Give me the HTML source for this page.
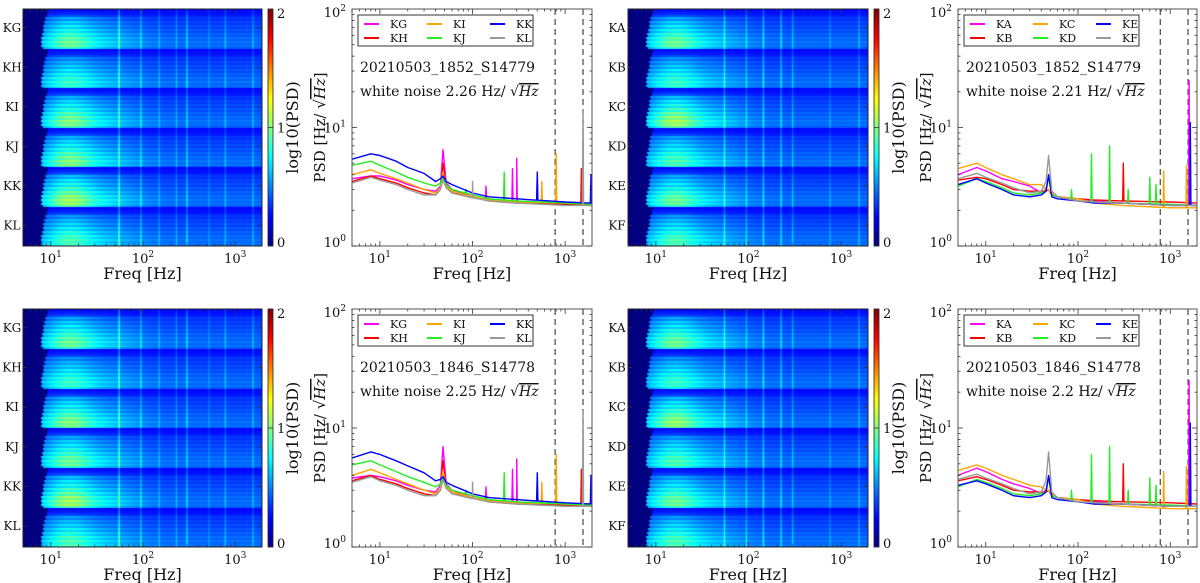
<!DOCTYPE html>
<html><head><meta charset="utf-8">
<style>
html,body{margin:0;padding:0;background:#fff;}
#wrap{position:relative;width:1200px;height:583px;overflow:hidden;}
canvas{position:absolute;}
svg{position:absolute;left:0;top:0;}
text{font-family:"DejaVu Serif","Liberation Serif",serif;fill:#111;}
</style></head>
<body>
<div id="wrap">
<canvas id="hm0"></canvas>
<canvas id="hm1"></canvas>
<canvas id="hm2"></canvas>
<canvas id="hm3"></canvas>
<canvas id="cb0"></canvas>
<canvas id="cb1"></canvas>
<canvas id="cb2"></canvas>
<canvas id="cb3"></canvas>
<svg id="svg" width="1200" height="583" xmlns="http://www.w3.org/2000/svg"></svg>
</div>
<script>
// ---------- data ----------
const fGrid = [5,8,10,15,20,30,40,45,48,52,60,100,150,300,1000,1950];
const namesLeft = ['KG','KH','KI','KJ','KK','KL'];
const namesRight = ['KA','KB','KC','KD','KE','KF'];
const seriesColors = ['#ff00ff','#ff0000','#ffa500','#22ee22','#0000ff','#999999'];
const rightColors = ['#ff00ff','#ff0000','#ffa500','#22ee22','#0000ff','#999999'];

const tlVals = [
 [3.7,3.9,3.9,3.6,3.3,3.0,2.9,3.2,6.5,3.4,3.0,2.6,2.45,2.35,2.25,2.2],
 [3.5,3.9,3.7,3.4,3.1,2.8,2.7,3.0,5.0,3.2,2.8,2.6,2.4,2.3,2.25,2.2],
 [4.0,4.4,4.1,3.7,3.4,3.0,2.8,3.1,4.2,3.2,2.9,2.6,2.45,2.35,2.3,2.25],
 [4.8,5.2,4.8,4.2,3.8,3.4,3.2,3.4,3.8,3.3,3.0,2.7,2.5,2.4,2.3,2.25],
 [5.4,6.0,5.8,5.2,4.6,4.1,3.5,3.7,3.9,3.5,3.3,2.8,2.6,2.5,2.35,2.3],
 [3.4,3.8,3.6,3.3,3.0,2.7,2.7,3.0,3.6,3.1,2.8,2.55,2.4,2.3,2.2,2.2]];
const blVals = [
 [3.8,4.0,3.9,3.6,3.3,3.0,2.9,3.3,7.0,3.4,3.0,2.6,2.45,2.35,2.25,2.2],
 [3.6,4.0,3.7,3.4,3.1,2.8,2.7,3.0,5.3,3.2,2.8,2.6,2.4,2.3,2.25,2.2],
 [4.0,4.5,4.2,3.7,3.4,3.0,2.8,3.1,4.4,3.2,2.9,2.6,2.45,2.35,2.3,2.25],
 [4.9,5.3,4.9,4.3,3.9,3.5,3.2,3.4,3.9,3.3,3.0,2.7,2.5,2.4,2.3,2.25],
 [5.6,6.3,6.0,5.3,4.8,4.2,3.6,3.7,3.9,3.5,3.3,2.8,2.6,2.5,2.35,2.3],
 [3.5,3.9,3.6,3.3,3.0,2.7,2.7,3.0,3.7,3.1,2.8,2.55,2.4,2.3,2.2,2.2]];
const trVals = [
 [4.0,4.6,4.3,3.7,3.5,3.2,2.8,3.0,3.9,2.8,2.6,2.5,2.4,2.3,2.2,2.2],
 [3.6,3.8,3.7,3.3,3.0,2.9,2.9,2.9,3.0,2.7,2.6,2.5,2.45,2.4,2.35,2.3],
 [4.5,5.0,4.6,4.0,3.7,3.3,3.3,3.0,3.0,2.8,2.6,2.5,2.3,2.2,2.1,2.1],
 [3.2,3.7,3.5,3.1,2.8,2.7,2.8,2.9,3.8,2.7,2.6,2.4,2.35,2.3,2.25,2.2],
 [3.3,3.7,3.4,3.0,2.7,2.6,2.7,2.9,4.0,2.6,2.5,2.4,2.3,2.3,2.2,2.2],
 [3.7,4.1,3.8,3.4,3.1,2.8,2.9,3.5,5.8,2.9,2.6,2.4,2.35,2.3,2.2,2.2]];
const brVals = [
 [4.0,4.6,4.3,3.7,3.4,3.1,2.8,3.0,3.9,2.8,2.6,2.5,2.4,2.3,2.2,2.2],
 [3.6,3.9,3.7,3.3,3.0,2.9,2.9,2.9,3.0,2.7,2.6,2.5,2.45,2.4,2.35,2.3],
 [4.4,4.9,4.6,4.0,3.7,3.3,3.2,3.0,3.0,2.8,2.6,2.5,2.3,2.2,2.1,2.1],
 [3.2,3.7,3.5,3.1,2.8,2.7,2.8,2.9,3.8,2.7,2.6,2.4,2.35,2.3,2.25,2.2],
 [3.3,3.6,3.4,3.0,2.7,2.6,2.7,2.9,4.0,2.6,2.5,2.4,2.3,2.3,2.2,2.2],
 [3.7,4.1,3.8,3.4,3.1,2.8,2.9,3.6,6.3,2.9,2.6,2.4,2.35,2.3,2.2,2.2]];

const spikeLeftF = [85,100,140,220,270,300,500,560,800,1500,1560,1900];
const spikeLeftV = [3.0,3.5,3.2,4.2,4.5,5.5,4.2,3.5,6.0,4.5,14,4.0];
const spikeLeftS = [3,5,0,3,0,0,4,2,2,1,5,4];
const spikeRightF = [85,140,220,310,350,600,700,850,1500,1600,1650];
const spikeRightV = [3.0,6.0,7.0,5.0,3.0,3.8,3.3,4.3,4.8,25,11];
const spikeRightS = [3,3,3,1,3,3,3,2,2,0,4];

const dashedF = [780,1560];

const hmHumpLeftTop = [0.48,0.38,0.52,0.52,0.58,0.42];
const hmHumpRightTop = [0.48,0.38,0.58,0.42,0.48,0.42];
const hmHumpLeftBot = [0.48,0.38,0.52,0.48,0.58,0.42];
const hmHumpRightBot = [0.48,0.38,0.55,0.42,0.48,0.42];
const hmLineLeftF = [55,95,150,230,300,520,780,1560];
const hmLineLeftA = [0.4,0.25,0.18,0.18,0.3,0.12,0.2,0.2];
const hmLineRightF = [55,95,145,225,300,760,1560];
const hmLineRightA = [0.3,0.22,0.3,0.3,0.22,0.15,0.2];
const rowProfile = [0.0,0.05,0.1,0.2,0.45,0.35,0.55,0.45,0.65,0.5,0.75,0.6,0.85,0.7,0.95,0.8,1,0.85,0.95,0.75];

const titlesTop = ['20210503_1852_S14779','20210503_1852_S14779'];
const titlesBot = ['20210503_1846_S14778','20210503_1846_S14778'];
const noiseTop = ['2.26','2.21'];
const noiseBot = ['2.25','2.2'];

// ---------- helpers ----------
const FMIN=5, FMAX=1950;
const LMIN=Math.log10(FMIN), LMAX=Math.log10(FMAX);
const svg=document.getElementById('svg');
const NS='http://www.w3.org/2000/svg';
function mk(tag,attrs,parent){const e=document.createElementNS(NS,tag);for(const k in attrs)e.setAttribute(k,attrs[k]);(parent||svg).appendChild(e);return e;}
function xs(p,f){return p.x0+(Math.log10(f)-LMIN)/(LMAX-LMIN)*(p.x1-p.x0);}
function ys(p,v){return p.y1-Math.log10(v)/2*(p.y1-p.y0);}
function jet(t){t=Math.max(0,Math.min(1,t));const c=x=>Math.round(255*Math.max(0,Math.min(1,x)));return [c(1.5-Math.abs(4*t-3)),c(1.5-Math.abs(4*t-2)),c(1.5-Math.abs(4*t-1))];}

function xTicks(p){
  for(let d=0;d<=3;d++){for(let m=1;m<10;m++){const f=m*Math.pow(10,d);if(f<FMIN||f>FMAX)continue;const x=xs(p,f);const L=m===1?5:2.5;
    const t1=mk('line',{x1:x,x2:x,y1:p.y1,y2:p.y1-L,stroke:'#333','stroke-width':0.8});
    
    mk('line',{x1:x,x2:x,y1:p.y0,y2:p.y0+L,stroke:'#333','stroke-width':0.8});
    if(m===1&&d>=1){const t=mk('text',{x:x,y:p.y1+17,'font-size':13,'text-anchor':'middle'});t.textContent='10';const s=mk('tspan',{dy:-6,'font-size':9},t);s.textContent=String(d);}
  }}
  const xl=mk('text',{x:(p.x0+p.x1)/2,y:p.y1+33,'font-size':16,'text-anchor':'middle'});
  xl.textContent='Freq [Hz]';
}

// ---------- heatmap ----------
function heatmap(id,cbid,p,names,hump,lf,la){
  const cv=document.getElementById(id);const W=p.x1-p.x0,H=p.y1-p.y0;
  cv.width=W;cv.height=H;cv.style.left=p.x0+'px';cv.style.top=p.y0+'px';
  const ctx=cv.getContext('2d');const img=ctx.createImageData(W,H);
  const nG=names.length,nR=rowProfile.length,rows=nG*nR,rh=H/rows;
  for(let py=0;py<H;py++){
    const r=Math.min(rows-1,Math.floor(py/rh));const g=Math.floor(r/nR),k=r%nR;const rp=rowProfile[k];
    const cut=Math.log10(7.8+1.5*(1-rp));
    for(let px=0;px<W;px++){
      const lfq=LMIN+(px+0.5)/W*(LMAX-LMIN);let v;
      if(lfq<cut){v=0;}else{
        const hm=Math.exp(-Math.pow((lfq-1.18)/0.28,2))+0.4*Math.exp(-Math.pow((lfq-1.6)/0.4,2));
        v=0.26+0.22*rp+hump[g]*rp*hm;
        for(let i=0;i<lf.length;i++){const dl=(lfq-Math.log10(lf[i]))/0.009;v+=la[i]*(0.6+0.4*rp)*Math.exp(-dl*dl);}
      }
      const c=jet(v/2);const o=(py*W+px)*4;img.data[o]=c[0];img.data[o+1]=c[1];img.data[o+2]=c[2];img.data[o+3]=255;
    }
  }
  ctx.putImageData(img,0,0);
  mk('rect',{x:p.x0,y:p.y0,width:W,height:H,fill:'none',stroke:'#222','stroke-width':1});
  names.forEach((n,i)=>{const y=p.y0+(i+0.5)*nR*rh-1;
    const t=mk('text',{x:p.x0-11,y:y+4,'font-size':12,'text-anchor':'middle'});
    t.textContent=n;
    mk('line',{x1:p.x0,x2:p.x0+4,y1:y,y2:y,stroke:'#333','stroke-width':0.8});
    mk('line',{x1:p.x1,x2:p.x1-4,y1:y,y2:y,stroke:'#333','stroke-width':0.8});
  });
  xTicks(p);
  const cb=document.getElementById(cbid);const cx=p.x1+6;cb.width=5;cb.height=H;cb.style.left=cx+'px';cb.style.top=p.y0+'px';
  const c2=cb.getContext('2d');for(let y=0;y<H;y++){const c=jet(1-y/H);c2.fillStyle=`rgb(${c[0]},${c[1]},${c[2]})`;c2.fillRect(0,y,5,1);}
  mk('rect',{x:cx,y:p.y0,width:5,height:H,fill:'none',stroke:'#222','stroke-width':0.8});
  [0,1,2].forEach(v=>{const y=p.y1-v/2*H;
    const t=mk('text',{x:cx+9,y:y+(v===2?9:v===0?1:5),'font-size':13});t.textContent=String(v);
    mk('line',{x1:cx,x2:cx+5,y1:y,y2:y,stroke:'#333','stroke-width':0.8});});
  const lbl=mk('text',{x:0,y:0,'font-size':16,'text-anchor':'middle',transform:`translate(${cx+30},${(p.y0+p.y1)/2}) rotate(-90)`});
  lbl.textContent='log10(PSD)';
}

// ---------- PSD line chart ----------
function interp(vals,f){const l=Math.log10(f);for(let i=0;i<fGrid.length-1;i++){const a=Math.log10(fGrid[i]),b=Math.log10(fGrid[i+1]);if(l>=a&&l<=b){const t=(l-a)/(b-a);return vals[i]+(vals[i+1]-vals[i])*t;}}return vals[vals.length-1];}
let clipN=0;
function psd(p,names,colors,vals,sf,sv,ss,title,noise){
  const id='clip'+(clipN++);const cp=mk('clipPath',{id:id});mk('rect',{x:p.x0,y:p.y0,width:p.x1-p.x0,height:p.y1-p.y0},cp);
  mk('rect',{x:p.x0,y:p.y0,width:p.x1-p.x0,height:p.y1-p.y0,fill:'#fff'});
  dashedF.forEach(f=>{const x=xs(p,f);const l=mk('line',{x1:x,x2:x,y1:p.y0,y2:p.y1,stroke:'#555','stroke-width':1.3,'stroke-dasharray':'6,4'});});
  const g=mk('g',{'clip-path':`url(#${id})`});
  names.forEach((n,s)=>{
    let pts=fGrid.map(f=>[f,interp(vals[s],f)]);
    sf.forEach((f,i)=>{if(ss[i]!==s)return;const b=interp(vals[s],f);pts.push([f*0.985,b],[f,sv[i]],[f*1.015,b]);});
    pts.sort((a,b)=>a[0]-b[0]);
    const d=pts.map((q,i)=>(i?'L':'M')+xs(p,q[0]).toFixed(1)+','+ys(p,q[1]).toFixed(1)).join('');
    const path=mk('path',{d:d,fill:'none',stroke:colors[s],'stroke-width':1.4,'stroke-linejoin':'round'},g);
    
  });
  mk('rect',{x:p.x0,y:p.y0,width:p.x1-p.x0,height:p.y1-p.y0,fill:'none',stroke:'#555','stroke-width':1});
  for(let d=0;d<2;d++)for(let m=1;m<10;m++){const v=m*Math.pow(10,d);const y=ys(p,v);const L=m===1?5:2.5;
    mk('line',{x1:p.x0,x2:p.x0+L,y1:y,y2:y,stroke:'#333','stroke-width':0.8});mk('line',{x1:p.x1,x2:p.x1-L,y1:y,y2:y,stroke:'#333','stroke-width':0.8});}
  [0,1,2].forEach(d=>{const y=ys(p,Math.pow(10,d));const t=mk('text',{x:p.x0-6,y:y+(d===2?8:d===0?1:5),'font-size':13,'text-anchor':'end'});
    t.textContent='10';const s=mk('tspan',{dy:-6,'font-size':9},t);s.textContent=String(d);});
  xTicks(p);
  const yl=mk('text',{x:0,y:0,'font-size':15,'text-anchor':'middle',transform:`translate(${p.x0-27},${(p.y0+p.y1)/2}) rotate(-90)`});
  
  yl.textContent='PSD [Hz/ √';const it=mk('tspan',{'font-style':'italic','text-decoration':'overline'},yl);it.textContent='Hz';const cl=mk('tspan',{},yl);cl.textContent=']';
  const lg=mk('g',{});
  mk('rect',{x:p.x0+6,y:p.y0+6,width:175,height:31,fill:'#fff',stroke:'#333','stroke-width':1},lg);
  names.forEach((n,s)=>{const col=Math.floor(s/2),row=s%2;const lx=p.x0+12+col*63,ly=p.y0+15+row*14;
    const e=mk('g',{},lg);
    mk('line',{x1:lx,x2:lx+15,y1:ly,y2:ly,stroke:colors[s],'stroke-width':2},e);
    const t=mk('text',{x:lx+26,y:ly+4,'font-size':11},e);t.textContent=n;});
  const t1=mk('text',{x:p.x0+8,y:p.y0+63,'font-size':14});t1.textContent=title;
  const t2=mk('text',{x:p.x0+8,y:p.y0+87,'font-size':14});
  t2.textContent='white noise '+noise+' Hz/ √';const t3=mk('tspan',{'font-style':'italic','text-decoration':'overline'},t2);t3.textContent='Hz';
}

const P=[
 {x0:23,x1:262,y0:9,y1:246},{x0:352,x1:592,y0:9,y1:246},{x0:628,x1:868,y0:9,y1:246},{x0:958,x1:1197,y0:9,y1:246},
 {x0:23,x1:262,y0:309,y1:547},{x0:352,x1:592,y0:309,y1:547},{x0:628,x1:868,y0:309,y1:547},{x0:958,x1:1197,y0:309,y1:547}];
heatmap('hm0','cb0',P[0],namesLeft,hmHumpLeftTop,hmLineLeftF,hmLineLeftA);
psd(P[1],namesLeft,seriesColors,tlVals,spikeLeftF,spikeLeftV,spikeLeftS,titlesTop[0],noiseTop[0]);
heatmap('hm1','cb1',P[2],namesRight,hmHumpRightTop,hmLineRightF,hmLineRightA);
psd(P[3],namesRight,rightColors,trVals,spikeRightF,spikeRightV,spikeRightS,titlesTop[1],noiseTop[1]);
heatmap('hm2','cb2',P[4],namesLeft,hmHumpLeftBot,hmLineLeftF,hmLineLeftA);
psd(P[5],namesLeft,seriesColors,blVals,spikeLeftF,spikeLeftV,spikeLeftS,titlesBot[0],noiseBot[0]);
heatmap('hm3','cb3',P[6],namesRight,hmHumpRightBot,hmLineRightF,hmLineRightA);
psd(P[7],namesRight,rightColors,brVals,spikeRightF,spikeRightV,spikeRightS,titlesBot[1],noiseBot[1]);
</script>
</body></html>
